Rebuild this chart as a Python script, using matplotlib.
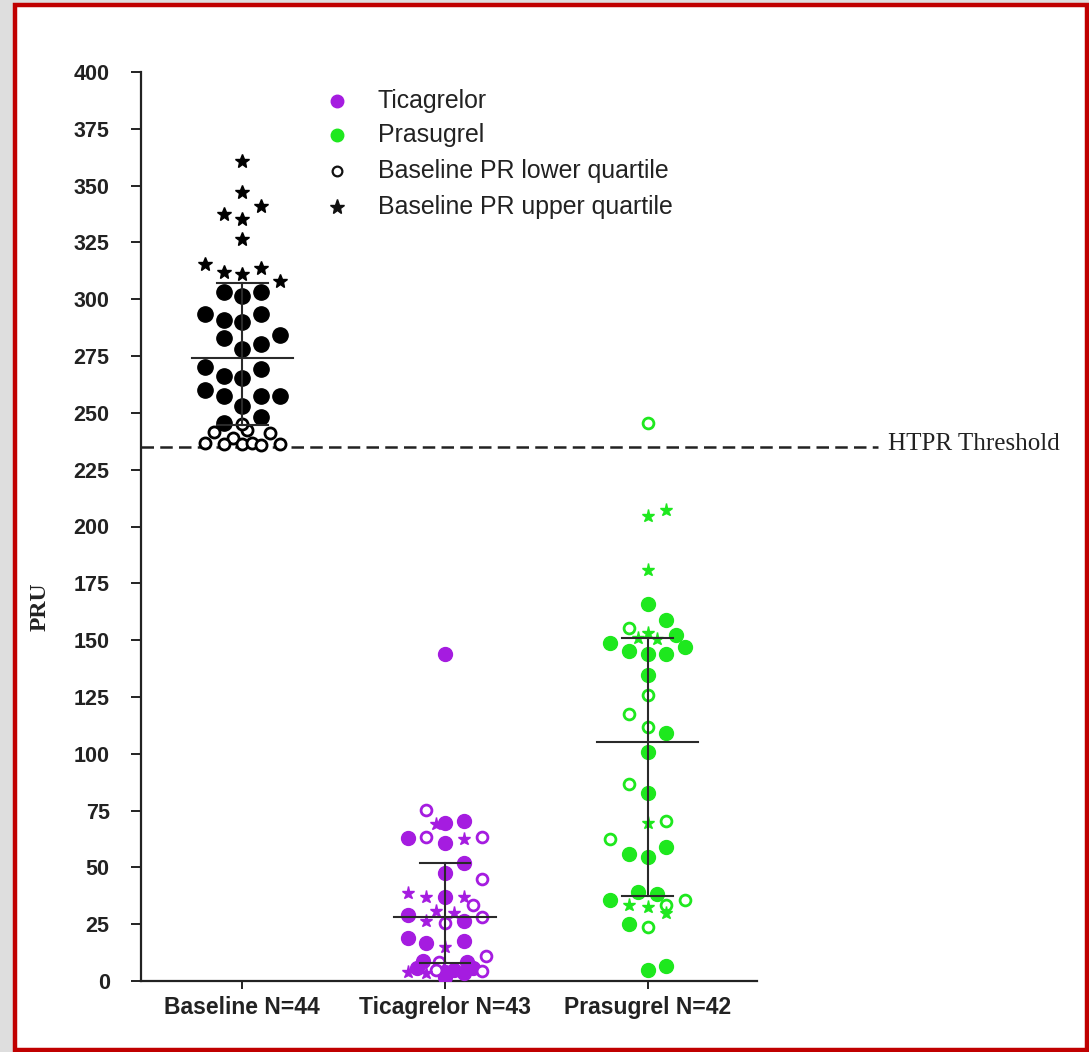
import numpy as np
import matplotlib
matplotlib.use("Agg")
import matplotlib.pyplot as plt
from matplotlib.patches import Rectangle

# categories and colours
groups = ["Baseline N=44", "Ticagrelor N=43", "Prasugrel N=42"]
group_colors = ["#000000", "#A51CE0", "#1EE81E"]

# PRU values, kind: f = filled, o = lower quartile, s = upper quartile
base_vals = [361, 347.3, 341, 337.4, 335.2, 326.4, 315.4, 312.1, 311.1, 313.6, 308.2,
             303, 301.6, 303, 293.4, 290.9, 289.8, 293.4, 282.8, 280.2, 284.3, 278.1,
             270, 266.2, 265.2, 269.2, 260.1, 257.4, 257.4, 257.4, 253, 248.3, 245.4,
             241.7, 242.5, 241, 238.8, 236.6, 236.2, 236.3, 236.6, 235.9, 236.2, 245.1]
base_kind = list("s" * 11) + list("f" * 22) + list("o" * 11)

tica_vals = [143.9, 75.2, 69.1, 69.7, 70.5, 62.8, 63.5, 60.9, 62.5, 63.2, 52.1, 47.7,
             44.8, 38.9, 36.8, 36.8, 36.8, 33.4, 30.9, 29.8, 29.0, 26.5, 25.4, 26.4,
             28.3, 19.1, 16.9, 17.6, 14.8, 8.9, 8.5, 8.5, 11.0, 3.8, 5.6, 3.4, 4.8,
             4.1, 4.8, 3.7, 5.6, 4.4, 1.9]
tica_kind = ["f", "o", "s", "f", "f", "f", "o", "f", "s", "o", "f", "f",
             "o", "s", "s", "f", "s", "o", "s", "s", "f", "s", "o", "f",
             "o", "f", "f", "f", "s", "f", "o", "f", "o", "s", "f", "s", "o",
             "f", "f", "f", "f", "o", "f"]

pras_vals = [245.4, 204.6, 207.3, 180.9, 165.9, 158.9, 155.5, 153.3, 148.9, 150.8,
             150.4, 152.3, 145.4, 143.9, 143.8, 146.8, 134.7, 125.9, 117.5, 111.6,
             109.3, 100.9, 86.6, 82.6, 69.4, 70.4, 62.4, 58.8, 55.9, 54.7, 39.3, 38.3,
             35.6, 35.6, 33.4, 32.7, 33.4, 30.1, 24.9, 23.9, 4.8, 6.7]
pras_kind = ["o", "s", "s", "s", "f", "f", "o", "s", "f", "s",
             "s", "f", "f", "f", "f", "f", "f", "o", "o", "o",
             "f", "f", "o", "f", "s", "o", "o", "f", "f", "f", "f", "f",
             "f", "o", "s", "s", "o", "s", "f", "o", "f", "f"]

# mean and SD bar ends
means = [274, 28.2, 105]
sd_hi = [307, 52, 151]
sd_lo = [244.7, 7.8, 37.4]

threshold = 235

# scatter lanes (layout only), in units of one dot width
base_lane = [0, 0, 1, -1, 0, 0, -2, -1, 0, 1, 2,
             -1, 0, 1, -2, -1, 0, 1, -1, 1, 2, 0,
             -2, -1, 0, 1, -2, -1, 1, 2, 0, 1, -1,
             -1.5, 0.25, 1.5, -0.5, -2, -1, 0, 0.5, 1, 2, 0]
tica_lane = [0, -1, -0.5, 0, 1, -2, -1, 0, 1, 2, 1, 0,
             2, -2, -1, 0, 1, 1.5, -0.5, 0.5, -2, -1, 0, 1,
             2, -2, -1, 1, 0, -1.2, -0.3, 1.2, 2.2, -2, -1.5, -1, -0.5,
             0, 0.5, 1, 1.5, 2, 0]
pras_lane = [0, 0, 1, 0, 0, 1, -1, 0, -2, -0.5,
             0.5, 1.5, -1, 0, 1, 2, 0, 0, -1, 0,
             1, 0, -1, 0, 0, 1, -2, 1, -1, 0, -0.5, 0.5,
             -2, 2, -1, 0, 1, 1, -1, 0, 0, 1]

W, H = 1089, 1052
fig = plt.figure(figsize=(W / 100, H / 100), dpi=100, facecolor="#dedede")
fig.patches.append(Rectangle((15 / W, 2 / H), 1072 / W, 1045 / H, transform=fig.transFigure,
                             facecolor="white", edgecolor="#c00000", linewidth=3.2, zorder=-5))

ax = fig.add_axes([141 / W, 71 / H, 616 / W, 909 / H])
ax.set_facecolor("none")
ax.set_zorder(2)

lane_w = 0.092
sizes = [(11, 8, 10.5), (10, 7.8, 9.5), (10, 7.8, 9.5)]
for i, (vals, kinds, lanes) in enumerate([(base_vals, base_kind, base_lane),
                                          (tica_vals, tica_kind, tica_lane),
                                          (pras_vals, pras_kind, pras_lane)]):
    vals = np.array(vals)
    kinds = np.array(kinds)
    xs = i + 1 + np.array(lanes) * lane_w
    c = group_colors[i]
    fs, os_, ss = sizes[i]
    m = kinds == "f"
    ax.plot(xs[m], vals[m], "o", ms=fs, color=c, mec=c, ls="none", zorder=3)
    m = kinds == "o"
    ax.plot(xs[m], vals[m], "o", ms=os_, mfc="white", mec=c, mew=2, ls="none", zorder=3)
    m = kinds == "s"
    ax.plot(xs[m], vals[m], "*", ms=ss, color=c, mec=c, ls="none", zorder=3)

    # mean and SD
    xc = i + 1
    lc = "#2a2a2a"
    ax.plot([xc - 0.25, xc + 0.25], [means[i]] * 2, color=lc, lw=1.5, zorder=4)
    ax.plot([xc, xc], [sd_lo[i], sd_hi[i]], color=lc, lw=1.5, zorder=4)
    for v in (sd_lo[i], sd_hi[i]):
        ax.plot([xc - 0.125, xc + 0.125], [v, v], color=lc, lw=1.5, zorder=4)

ax.axhline(threshold, xmin=0, xmax=(878 - 141) / 616, color="#222222", lw=1.8,
           ls=(0, (5, 2.5)), clip_on=False, zorder=2)
fig.text(888 / W, 1 - 444 / H, "HTPR Threshold", family="Liberation Serif",
         fontsize=18, color="#222222", va="center", ha="left")

ax.set_xlim(0.5, 3.54)
ax.set_ylim(0, 400)
ax.set_yticks(np.arange(0, 401, 25))
ax.set_xticks([1, 2, 3])
ax.set_xticklabels(groups)
for s in ("top", "right"):
    ax.spines[s].set_visible(False)
for s in ("left", "bottom"):
    ax.spines[s].set_linewidth(1.6)
    ax.spines[s].set_color("#222222")
ax.tick_params(axis="y", length=7.5, width=1.4, pad=15, color="#222222")
ax.tick_params(axis="x", length=6, width=1.4, pad=5, color="#222222")
for lab in ax.get_yticklabels():
    lab.set_fontfamily("Liberation Sans")
    lab.set_fontweight("bold")
    lab.set_fontsize(15.5)
    lab.set_color("#222222")
for lab in ax.get_xticklabels():
    lab.set_fontfamily("Liberation Sans")
    lab.set_fontweight("bold")
    lab.set_fontsize(16.5)
    lab.set_color("#222222")

fig.text(40 / W, 1 - 607 / H, "PRU", rotation=90, family="Liberation Serif",
         fontweight="bold", fontsize=17, color="#222222", ha="center", va="center")

# legend built by hand
leg_labels = ["Ticagrelor", "Prasugrel", "Baseline PR lower quartile", "Baseline PR upper quartile"]
leg_rows = [101, 135, 171, 207]
for j, (lab, yy) in enumerate(zip(leg_labels, leg_rows)):
    fy = 1 - yy / H
    if j == 0:
        fig.lines.append(plt.Line2D([337 / W], [fy], marker="o", ms=9, color=group_colors[1],
                                    transform=fig.transFigure))
    elif j == 1:
        fig.lines.append(plt.Line2D([337 / W], [fy], marker="o", ms=9, color=group_colors[2],
                                    transform=fig.transFigure))
    elif j == 2:
        fig.lines.append(plt.Line2D([337 / W], [fy], marker="o", ms=7, mfc="none", mec="#111111",
                                    mew=1.6, transform=fig.transFigure))
    else:
        fig.lines.append(plt.Line2D([337 / W], [fy], marker="*", ms=11, color="#111111",
                                    transform=fig.transFigure))
    fig.text(378 / W, fy, lab, family="Liberation Sans", fontsize=17.9, color="#222222",
             ha="left", va="center")

fig.savefig("out.png", dpi=100, facecolor=fig.get_facecolor())
